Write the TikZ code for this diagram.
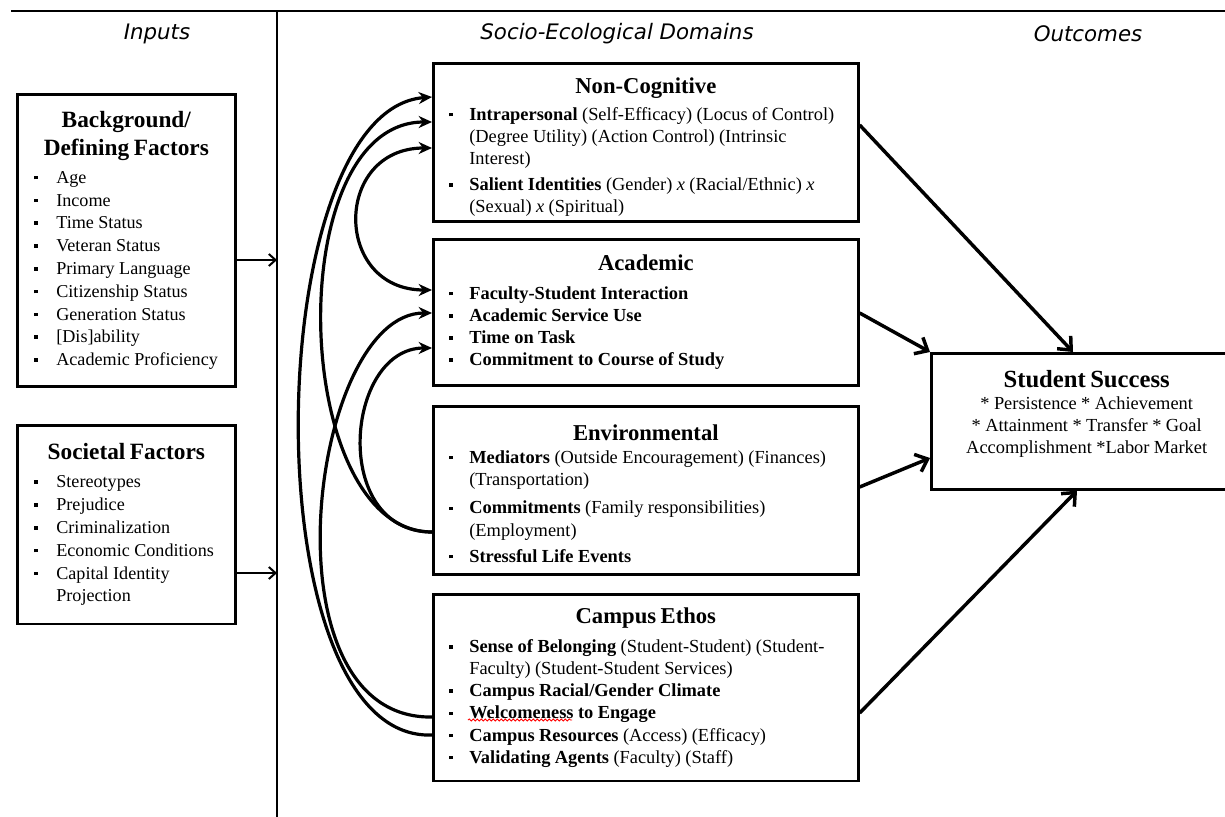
\documentclass[tikz,border=0pt]{standalone}
\usepackage{fontspec}
\setmainfont{Liberation Serif}
\newfontfamily\headfont{DejaVu Sans}
\usetikzlibrary{arrows.meta,positioning,decorations.pathmorphing}

\newlength{\hng}
\newlength{\bps}
\newcommand{\blt}{\rule[3pt]{2.6pt}{2.6pt}}
\newcommand{\itm}[1]{\par\hangindent=\hng\hangafter=1\noindent\hbox to \hng{\hskip\bps\blt\hss}#1}
\newcommand{\gap}[1]{\hrule height 0pt width 0pt\vspace{#1}\hrule height 0pt width 0pt}
\newcommand{\intitle}[1]{{\centering\fontsize{17.5}{21}\selectfont\bfseries #1\par}\vspace{4pt}}
\newcommand{\domtitle}[2][5pt]{{\centering\fontsize{17}{22}\selectfont\bfseries #2\par}\vspace{#1}}

\tikzstyle{box} = [draw,line width=2pt,anchor=north west,inner xsep=4pt,inner ysep=0pt,align=left]
\tikzstyle{inbox} = [box,text width=155.5pt,execute at begin node={\setlength{\hng}{25.25pt}\setlength{\bps}{8.75pt}\fontsize{13.6}{17.1}\selectfont}]
\tikzstyle{sebox} = [box,text width=310.75pt,execute at begin node={\setlength{\hng}{23pt}\setlength{\bps}{8pt}\hyphenpenalty=10000\fontsize{13.8}{16.6}\selectfont}]
\tikzstyle{outbox} = [box,text width=225pt,align=center]
\tikzstyle{header} = [font=\headfont\itshape\fontsize{16}{19}\selectfont]
\tikzstyle{inarrow} = [line width=1.5pt,-{Straight Barb[length=5pt,width=9pt]}]
\tikzstyle{feedarrow} = [line width=2.4pt,-{Stealth[length=10pt,width=9pt]}]
\tikzstyle{bothfeed} = [line width=2.4pt,{Stealth[length=10pt,width=9pt]}-{Stealth[length=10pt,width=9pt]}]
\tikzstyle{outarrow} = [line width=2.6pt,-{Straight Barb[length=8pt,width=14pt]}]
\tikzstyle{spellwave} = [red,line width=0.6pt,decorate,decoration={snake,amplitude=0.8pt,segment length=3pt}]

\begin{document}
\begin{tikzpicture}[x=0.75pt,y=-0.75pt]
  \useasboundingbox (0,0) rectangle (1225,817);

  % define constants
  \def \divx {277}
  \def \midx {432}

  % header rule and divider
  \coordinate (divtop) at (\divx,11);
  \coordinate (divbot) at (\divx,817);
  \draw[line width=1pt] (11,11) -- (1230,11);
  \draw[line width=1pt] (divtop) -- (divbot);

  % column headers
  \node[header] (hin) at (157,34) {Inputs};
  \node[header] (hdom) at (617,34) {Socio-Ecological Domains};
  \node[header] (hout) at (1088,34) {Outcomes};

  % inputs
  \node[inbox,minimum height=219pt] (bg) at (16,93) {\intitle{Background/\\Defining Factors}
    \itm{Age}\itm{Income}\itm{Time Status}\itm{Veteran Status}\itm{Primary Language}
    \itm{Citizenship Status}\itm{Generation Status}\itm{[Dis]ability}\itm{Academic Proficiency}\par};
  \node[inbox,minimum height=149pt] (soc) at (16,424) {\intitle{Societal Factors}
    \itm{Stereotypes}\itm{Prejudice}\itm{Criminalization}\itm{Economic Conditions}
    \itm{Capital Identity\newline Projection}\par};

  % domains
  \node[sebox,minimum height=118.5pt] (ncog) at (\midx,62) {\gap{7.5pt}\domtitle[3.5pt]{Non-Cognitive}
    \itm{\textbf{Intrapersonal} (Self-Efficacy) (Locus of Control)\newline (Degree Utility) (Action Control) (Intrinsic\newline Interest)}
    \vspace{3pt}
    \itm{\textbf{Salient Identities} (Gender) \textit{x} (Racial/Ethnic) \textit{x}\newline (Sexual) \textit{x} (Spiritual)}\par};
  \node[sebox,minimum height=109.5pt] (acad) at (\midx,238) {\domtitle{Academic}
    \itm{\textbf{Faculty-Student Interaction}}\itm{\textbf{Academic Service Use}}
    \itm{\textbf{Time on Task}}\itm{\textbf{Commitment to Course of Study}}\par};
  \node[sebox,minimum height=126pt] (env) at (\midx,405) {\gap{5.25pt}\domtitle[0pt]{Environmental}
    \itm{\textbf{Mediators} (Outside Encouragement) (Finances)\newline (Transportation)}
    \vspace{5pt}
    \itm{\textbf{Commitments} (Family responsibilities)\newline (Employment)}
    \vspace{3pt}
    \itm{\textbf{Stressful Life Events}}\par};
  \node[sebox,minimum height=140pt] (ethos) at (\midx,593) {\domtitle{Campus Ethos}
    \itm{\textbf{Sense of Belonging} (Student-Student) (Student-\newline Faculty) (Student-Student Services)}
    \itm{\textbf{Campus Racial/Gender Climate}}
    \itm{\textbf{Welcomeness to Engage}}
    \itm{\textbf{Campus Resources} (Access) (Efficacy)}
    \itm{\textbf{Validating Agents} (Faculty) (Staff)}\par};
  \draw[spellwave] (468,720) -- (572,720);

  % outcome
  \node[outbox,minimum height=102pt] (succ) at (930,352) {{\fontsize{18.5}{22}\selectfont\bfseries Student Success\par}
    \fontsize{13.8}{16.5}\selectfont * Persistence * Achievement\\{}* Attainment * Transfer * Goal\\{}Accomplishment *Labor Market\par\gap{11pt}};

  % inputs into the domains
  \draw[inarrow] (bg.east |- 0,260) -- (divtop |- 0,260);
  \draw[inarrow] (soc.east |- 0,573) -- (divtop |- 0,573);

  % links between domains
  \draw[feedarrow] (ethos.west |- 0,735) .. controls (250,742) and (260,110) .. (ncog.west |- 0,97);
  \draw[feedarrow] (env.west |- 0,532) .. controls (290,532) and (280,122) .. (ncog.west |- 0,122);
  \draw[bothfeed] (ncog.west |- 0,148) .. controls (333,148) and (333,290) .. (acad.west |- 0,290);
  \draw[feedarrow] (ethos.west |- 0,717) .. controls (260,720) and (310,313) .. (acad.west |- 0,313);
  \draw[feedarrow] (env.west |- 0,532) .. controls (330,532) and (345,348) .. (acad.west |- 0,348);

  % domains into the outcome
  \draw[outarrow] (ncog.east |- 0,125) -- (succ.north -| 1073,0);
  \draw[outarrow] (acad.east |- 0,313) -- (succ.north west);
  \draw[outarrow] (env.east |- 0,487) -- (succ.west |- 0,458);
  \draw[outarrow] (ethos.east |- 0,713) -- (succ.south -| 1077,0);
\end{tikzpicture}
\end{document}
